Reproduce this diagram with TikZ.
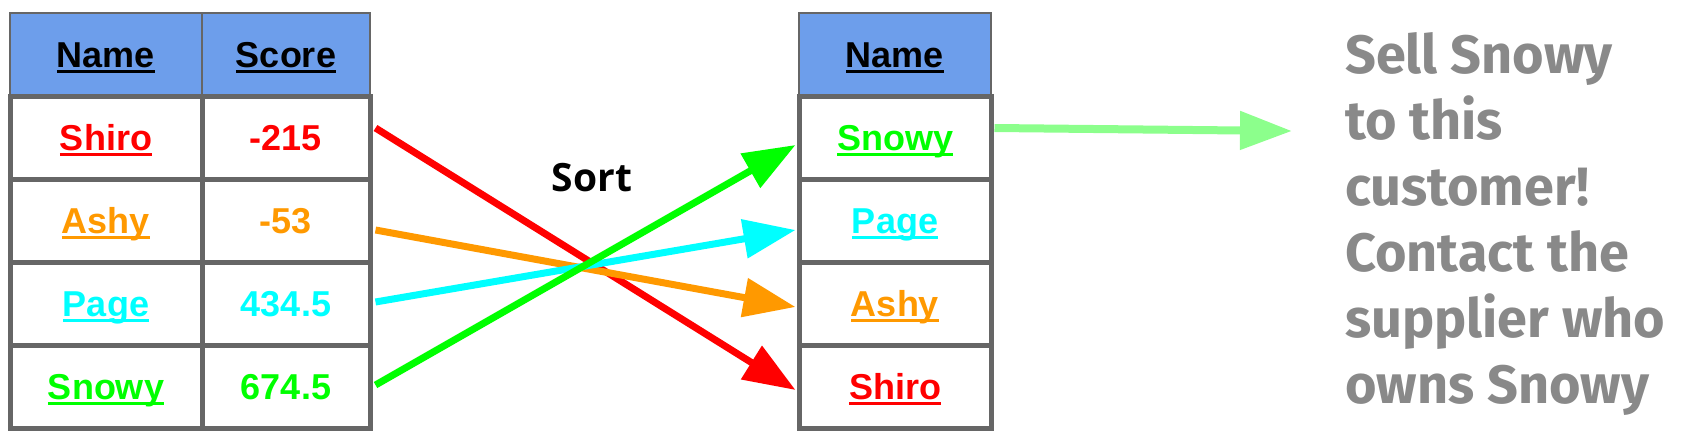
\documentclass[tikz,border=0pt]{standalone}
\usepackage{fontspec}
\setmainfont{Liberation Sans}
\newfontfamily\sortfont{Open Sans}
\newfontfamily\notefont{Fira Sans}
\usetikzlibrary{arrows.meta,calc}
\definecolor{hdr}{HTML}{6D9EEB}
\definecolor{bord}{HTML}{666666}
\definecolor{cred}{HTML}{FF0000}
\definecolor{corange}{HTML}{FF9900}
\definecolor{ccyan}{HTML}{00FFFF}
\definecolor{cgreen}{HTML}{00FF00}
\definecolor{lgreen}{HTML}{8CFF8C}
\definecolor{notegray}{HTML}{898989}
\newsavebox\ulbox
\newcommand\myul[1]{\sbox\ulbox{#1}\leavevmode\rlap{\rule[-5pt]{\wd\ulbox}{3pt}}\usebox\ulbox}
\begin{document}
\begin{tikzpicture}[x=1pt,y=-1pt,
  tabfont/.style={font=\fontsize{36}{40}\selectfont\bfseries, text height=33pt, text depth=7pt},
  hcell/.style={draw=bord, line width=2pt, fill=hdr, minimum height=83pt, inner sep=0pt, tabfont},
  bcell/.style={draw=bord, line width=5pt, fill=white, minimum height=83pt, inner sep=0pt, tabfont},
  namecol/.style={minimum width=192pt},
  scorecol/.style={minimum width=168pt},
  sortarrow/.style={line width=7pt, -{Triangle[length=52pt,width=38pt]}},
  outarrow/.style={line width=8pt, lgreen, -{Triangle[length=52pt,width=37pt]}}]
\useasboundingbox (0,0) rectangle (1684,442);
% left table header
\node[hcell,namecol] (lhn) at (106,54.5) {\myul{Name}};
\node[hcell,scorecol] (lhs) at (286,54.5) {\myul{Score}};
% left table body
\node[bcell,namecol,text=cred] (ln1) at (106,137.5) {\myul{Shiro}};
\node[bcell,scorecol,text=cred] (ls1) at (286,137.5) {-215};
\node[bcell,namecol,text=corange] (ln2) at (106,220.5) {\myul{Ashy}};
\node[bcell,scorecol,text=corange] (ls2) at (286,220.5) {-53};
\node[bcell,namecol,text=ccyan] (ln3) at (106,303.5) {\myul{Page}};
\node[bcell,scorecol,text=ccyan] (ls3) at (286,303.5) {434.5};
\node[bcell,namecol,text=cgreen] (ln4) at (106,386.5) {\myul{Snowy}};
\node[bcell,scorecol,text=cgreen] (ls4) at (286,386.5) {674.5};
% right table
\node[hcell,namecol] (rh) at (895,54.5) {\myul{Name}};
\node[bcell,namecol,text=cgreen] (rn1) at (895,137.5) {\myul{Snowy}};
\node[bcell,namecol,text=ccyan] (rn2) at (895,220.5) {\myul{Page}};
\node[bcell,namecol,text=corange] (rn3) at (895,303.5) {\myul{Ashy}};
\node[bcell,namecol,text=cred] (rn4) at (895,386.5) {\myul{Shiro}};
% sort label
\node[font=\sortfont\bfseries\fontsize{39}{44}\selectfont] (sort) at (592,178) {Sort};
% sorting arrows
\draw[sortarrow,cred] ($(ls1.east)+(3,-9.5)$) -- ($(rn4.west)+(-1,3.5)$);
\draw[sortarrow,corange] ($(ls2.east)+(3,9.5)$) -- ($(rn3.west)+(-1,3.5)$);
\draw[sortarrow,ccyan] ($(ls3.east)+(3,-1.5)$) -- ($(rn2.west)+(-1,9.5)$);
\draw[sortarrow,cgreen] ($(ls4.east)+(3,-1.5)$) -- ($(rn1.west)+(-1,7.5)$);
% output arrow and note
\coordinate (tip) at (1292,131);
\draw[outarrow] ($(rn1.east)+(1,-9.5)$) -- (tip);
\node[anchor=north west, align=left, inner sep=0pt, text=notegray,
      font=\notefont\bfseries\fontsize{54}{66}\selectfont] (note) at (1345,32)
  {Sell Snowy\\to this\\customer!\\Contact the\\supplier who\\owns Snowy};
\end{tikzpicture}
\end{document}
